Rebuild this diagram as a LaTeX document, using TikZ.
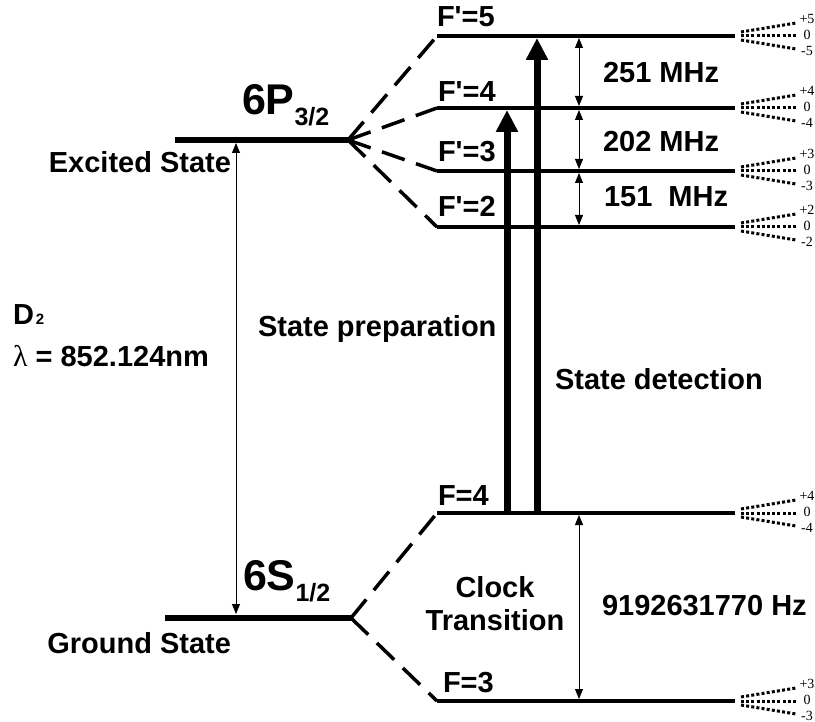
\documentclass[tikz,border=0pt]{standalone}
\usepackage{fontspec}
\setmainfont{Liberation Sans}
\newfontfamily\serifF{Liberation Serif}
\newfontfamily\plainF{Liberation Sans}[Ligatures=NoCommon]
\usetikzlibrary{arrows.meta}
\newcommand{\apos}{\textquotesingle}
\begin{document}
\begin{tikzpicture}[x=1pt,y=-1pt,
  every node/.style={inner sep=0pt,outer sep=0pt},
  lbl/.style={font=\bfseries\fontsize{29}{31}\selectfont},
  big/.style={font=\bfseries\fontsize{43}{45}\selectfont},
  sub/.style={font=\serifF\fontsize{14}{14}\selectfont},
  hyper/.style={line width=4pt,line cap=butt},
  split/.style={line width=3.5pt,dash pattern=on 24pt off 12pt},
  thinarr/.style={line width=0.9pt,{Triangle[width=8pt,length=10pt]}-{Triangle[width=8pt,length=10pt]}},
  bigarr/.style={line width=7pt,-{Triangle[width=21pt,length=22pt]}},
  fandot/.style={line width=3pt,dash pattern=on 3pt off 2.2pt}
]
\useasboundingbox (0,0) rectangle (815,722);

% fine-structure levels
\coordinate (Pa) at (175,140); \coordinate (Pb) at (348,140);
\coordinate (Sa) at (165,618); \coordinate (Sb) at (351,618);
\draw[line width=6.5pt] (Pa) -- (Pb);
\draw[line width=6.5pt] (Sa) -- (Sb);

% hyperfine levels
\foreach \n/\y in {E5/36,E4/108,E3/171,E2/227,G4/513,G3/701}{
  \coordinate (\n a) at (437,\y);
  \coordinate (\n b) at (735,\y);
  \draw[hyper] (\n a) -- (\n b);
}

% splitting lines
\foreach \n in {E5,E4,E3,E2}{ \draw[split] (Pb) -- (\n a); }
\foreach \n in {G4,G3}{ \draw[split] (Sb) -- (\n a); }

% D2 arrow
\coordinate (Dt) at (236,143); \coordinate (Db) at (236,614);
\draw[thinarr] (Dt) -- (Db);

% spacing arrows
\coordinate (m1) at (579,38);  \coordinate (m2) at (579,106);
\coordinate (m3) at (579,110); \coordinate (m4) at (579,169);
\coordinate (m5) at (579,173); \coordinate (m6) at (579,225);
\coordinate (c1) at (579,515); \coordinate (c2) at (579,699);
\draw[thinarr] (m1) -- (m2);
\draw[thinarr] (m3) -- (m4);
\draw[thinarr] (m5) -- (m6);
\draw[thinarr] (c1) -- (c2);

% thick arrows
\coordinate (pa) at (507,512); \coordinate (pb) at (507,110);
\coordinate (da) at (537,512); \coordinate (db) at (537,38);
\draw[bigarr] (pa) -- (pb);
\draw[bigarr] (da) -- (db);

% Zeeman fans
\foreach \y/\k in {36/5,108/4,171/3,227/2,513/4,701/3}{
  \draw[fandot] (741,\y-4) -- (796,\y-13);
  \draw[fandot] (741,\y) -- (796,\y);
  \draw[fandot] (741,\y+4) -- (796,\y+13);
  \node[sub] at (807,\y-17) {+\k};
  \node[sub] at (807,\y-1) {0};
  \node[sub] at (807,\y+15) {-\k};
}

% labels
\node[lbl,anchor=base west] (l5) at (437,27) {F\apos=5};
\node[lbl,anchor=base west] (l4) at (438,102) {F\apos=4};
\node[lbl,anchor=base west] (l3) at (438,162) {F\apos=3};
\node[lbl,anchor=base west] (l2) at (438,217) {F\apos=2};
\node[lbl,anchor=base west] (g4) at (438,505) {F=4};
\node[lbl,anchor=base west] (g3) at (443,692) {F=3};
\node[lbl,anchor=base west] (f1) at (603,83) {251 MHz};
\node[lbl,anchor=base west] (f2) at (603,152) {202 MHz};
\node[lbl,anchor=base west] (f3) at (604,207) {151\ \ MHz};
\node[big,anchor=base west] (P) at (242,115) {6P\raisebox{-11pt}{\fontsize{25}{25}\selectfont 3/2}};
\node[big,anchor=base west] (S) at (243,590) {6S\raisebox{-11pt}{\fontsize{25}{25}\selectfont 1/2}};
\node[lbl,anchor=base east] (ex) at (231,173) {Excited State};
\node[lbl,anchor=base east] (gr) at (231,653) {Ground State};
\node[lbl,anchor=base west] (d2) at (13,325) {D\kern2pt{\fontsize{15}{15}\selectfont 2}};
\node[lbl,anchor=base west] (lam) at (13,367) {{\serifF\mdseries\fontsize{30}{30}\selectfont λ} = 852.124nm};
\node[lbl,anchor=base west] (sp) at (258,337) {State preparation};
\node[lbl,anchor=base west] (sd) at (555,390) {State detection};
\node[lbl,anchor=base] (ck) at (495,597) {Clock};
\node[lbl,anchor=base] (tr) at (495,630) {Transition};
\node[lbl,anchor=base west] (hz) at (602,615) {9192631770 Hz};
\end{tikzpicture}
\end{document}
